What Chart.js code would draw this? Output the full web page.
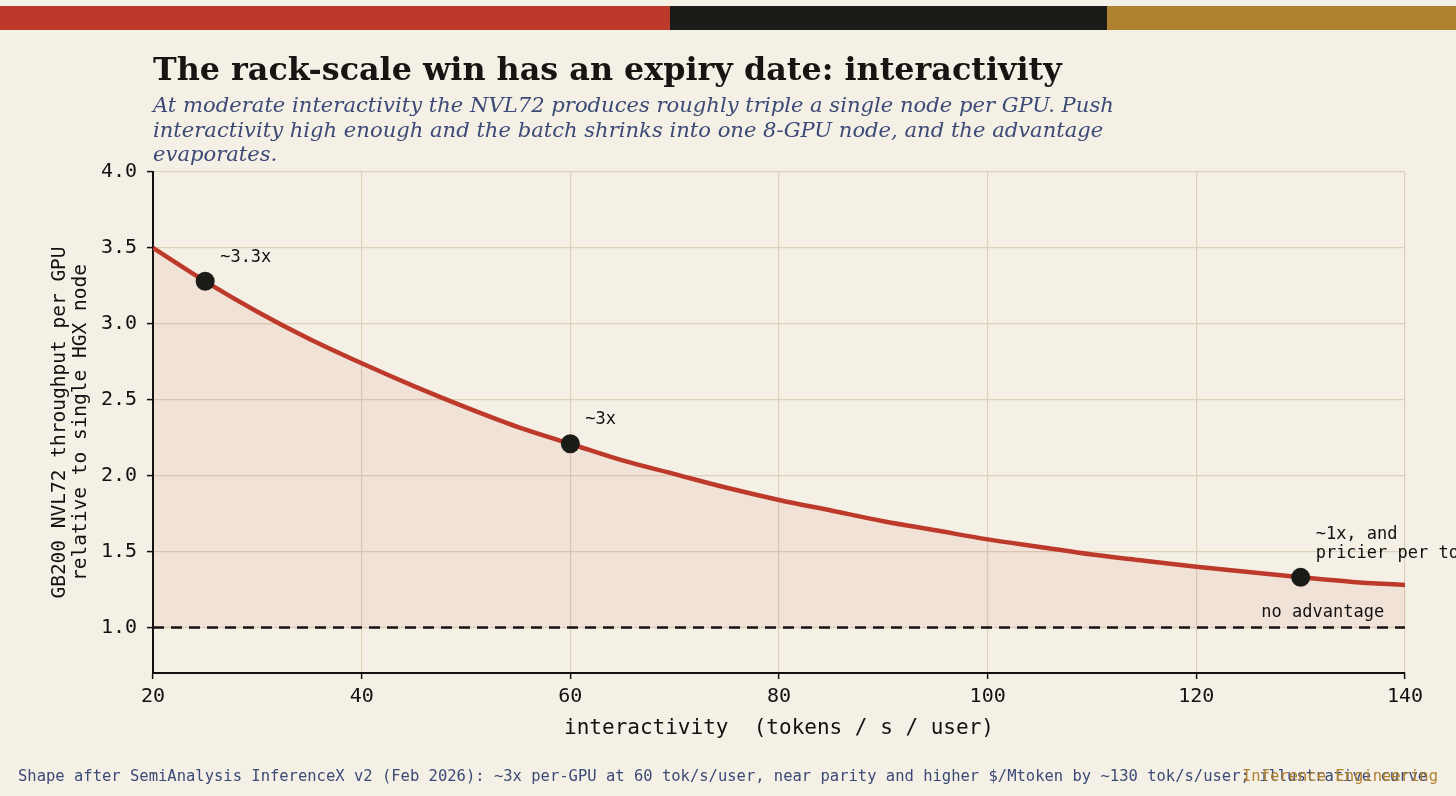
<!DOCTYPE html>
<html>
<head>
<meta charset="utf-8">
<script src="https://cdn.jsdelivr.net/npm/chart.js@4.4.1/dist/chart.umd.min.js"></script>
<style>
  html, body { margin:0; padding:0; background:#f5f0e6; }
  body { width:1456px; height:796px; position:relative; overflow:hidden; }
  #chart { position:absolute; left:0; top:0; }
  .bar { position:absolute; top:6px; height:24px; }
  #title { position:absolute; left:153px; top:49px; font-family:"DejaVu Serif",serif; font-weight:bold; font-size:31.8px; line-height:40px; color:#161512; white-space:nowrap; }
  #subtitle { position:absolute; left:153px; top:93px; font-family:"DejaVu Serif",serif; font-style:italic; font-size:21.1px; line-height:24.5px; color:#3b4a76; white-space:nowrap; }
  .foot { position:absolute; top:766px; font-family:"DejaVu Sans Mono",monospace; font-size:15.5px; line-height:20px; white-space:nowrap; }
</style>
</head>
<body>
<div class="bar" style="left:0;width:670px;background:#bd3a2a"></div>
<div class="bar" style="left:670px;width:437px;background:#1b1b18"></div>
<div class="bar" style="left:1107px;width:349px;background:#b0812e"></div>
<canvas id="chart" width="1456" height="796"></canvas>
<div id="title">The rack-scale win has an expiry date: interactivity</div>
<div id="subtitle">At moderate interactivity the NVL72 produces roughly triple a single node per GPU. Push<br>interactivity high enough and the batch shrinks into one 8-GPU node, and the advantage<br>evaporates.</div>
<div class="foot" style="left:18px;color:#3b4a76">Shape after SemiAnalysis InferenceX v2 (Feb 2026): ~3x per-GPU at 60 tok/s/user, near parity and higher $/Mtoken by ~130 tok/s/user; illustrative curve</div>
<div class="foot" style="right:18px;color:#b0812e">Inference Engineering</div>
<script>
// ---- data ----
const interactivity = [20,25,30,35,40,45,50,55,60,65,70,75,80,85,90,95,100,105,110,115,120,125,130,135,140];
const throughputRatio = [3.50,3.28,3.08,2.90,2.74,2.59,2.45,2.32,2.21,2.10,2.01,1.92,1.84,1.77,1.70,1.64,1.58,1.53,1.48,1.44,1.40,1.365,1.33,1.30,1.28];
const markerX = [25, 60, 130];
const markerY = [3.28, 2.21, 1.33];
const markerLabels = [["~3.3x"], ["~3x"], ["~1x, and", "pricier per token"]];
const baselineValue = 1.0;
const baselineLabel = "no advantage";
const baselineLabelX = 138;
const xTicks = [20, 40, 60, 80, 100, 120, 140];
const yTicks = [1.0, 1.5, 2.0, 2.5, 3.0, 3.5, 4.0];
const xTitle = "interactivity  (tokens / s / user)";
const yTitle = ["GB200 NVL72 throughput per GPU", "relative to single HGX node"];

const MONO = '"DejaVu Sans Mono", monospace';
const INK = '#111111';
const GRID = '#ddd0ba';

const annotPlugin = {
  id: 'annot',
  afterDatasetsDraw(chart) {
    const {ctx, scales: {x, y}} = chart;
    ctx.save();
    ctx.fillStyle = INK;
    ctx.font = '17px ' + MONO;
    ctx.textBaseline = 'middle';
    ctx.textAlign = 'left';
    markerX.forEach((mx, i) => {
      const px = x.getPixelForValue(mx);
      const py = y.getPixelForValue(markerY[i]);
      const lines = markerLabels[i];
      lines.forEach((t, j) => {
        const off = (lines.length - 1 - j) * 19;
        ctx.fillText(t, px + 15, py - 24 - off);
      });
    });
    ctx.textAlign = 'right';
    ctx.fillText(baselineLabel, x.getPixelForValue(baselineLabelX), y.getPixelForValue(baselineValue) - 15);
    ctx.restore();
  }
};

new Chart(document.getElementById('chart'), {
  type: 'line',
  data: {
    datasets: [
      {
        type: 'scatter',
        data: markerX.map((v, i) => ({x: v, y: markerY[i]})),
        pointRadius: 9.5,
        pointBackgroundColor: '#1b1b18',
        pointBorderWidth: 0,
        showLine: false
      },
      {
        data: interactivity.map((v, i) => ({x: v, y: throughputRatio[i]})),
        borderColor: '#bd3a2a',
        borderWidth: 4.5,
        cubicInterpolationMode: 'monotone',
        pointRadius: 0,
        fill: {value: baselineValue},
        backgroundColor: 'rgba(189,58,42,0.075)'
      },
      {
        data: [{x: xTicks[0], y: baselineValue}, {x: xTicks[xTicks.length - 1], y: baselineValue}],
        borderColor: INK,
        borderWidth: 2.6,
        borderDash: [11, 7],
        pointRadius: 0,
        fill: false
      }
    ]
  },
  options: {
    responsive: false,
    animation: false,
    layout: {padding: {top: 172, right: 51, left: 0, bottom: 0}},
    plugins: {legend: {display: false}, tooltip: {enabled: false}},
    scales: {
      x: {
        type: 'linear',
        min: 20, max: 140,
        afterBuildTicks: s => { s.ticks = xTicks.map(v => ({value: v})); },
        afterFit: s => { s.height = 123; },
        ticks: {font: {family: MONO, size: 20}, color: INK, padding: 6, callback: v => String(v)},
        grid: {color: GRID, lineWidth: 1.2, tickLength: 6, tickColor: INK, tickWidth: 1.5},
        border: {color: INK, width: 2},
        title: {display: true, text: xTitle, font: {family: MONO, size: 21}, color: INK, padding: {top: 0, bottom: 55}}
      },
      y: {
        min: 0.7, max: 4.0,
        afterBuildTicks: s => { s.ticks = yTicks.map(v => ({value: v})); },
        afterFit: s => { s.width = 153; },
        ticks: {font: {family: MONO, size: 20}, color: INK, padding: 10, callback: v => Number(v).toFixed(1)},
        grid: {color: GRID, lineWidth: 1.2, tickLength: 6, tickColor: INK, tickWidth: 1.5},
        border: {color: INK, width: 2},
        title: {display: true, text: yTitle, font: {family: MONO, size: 19.5, lineHeight: 1.08}, color: INK, padding: {top: 49.5, bottom: 0}}
      }
    }
  },
  plugins: [annotPlugin]
});
</script>
</body>
</html>
